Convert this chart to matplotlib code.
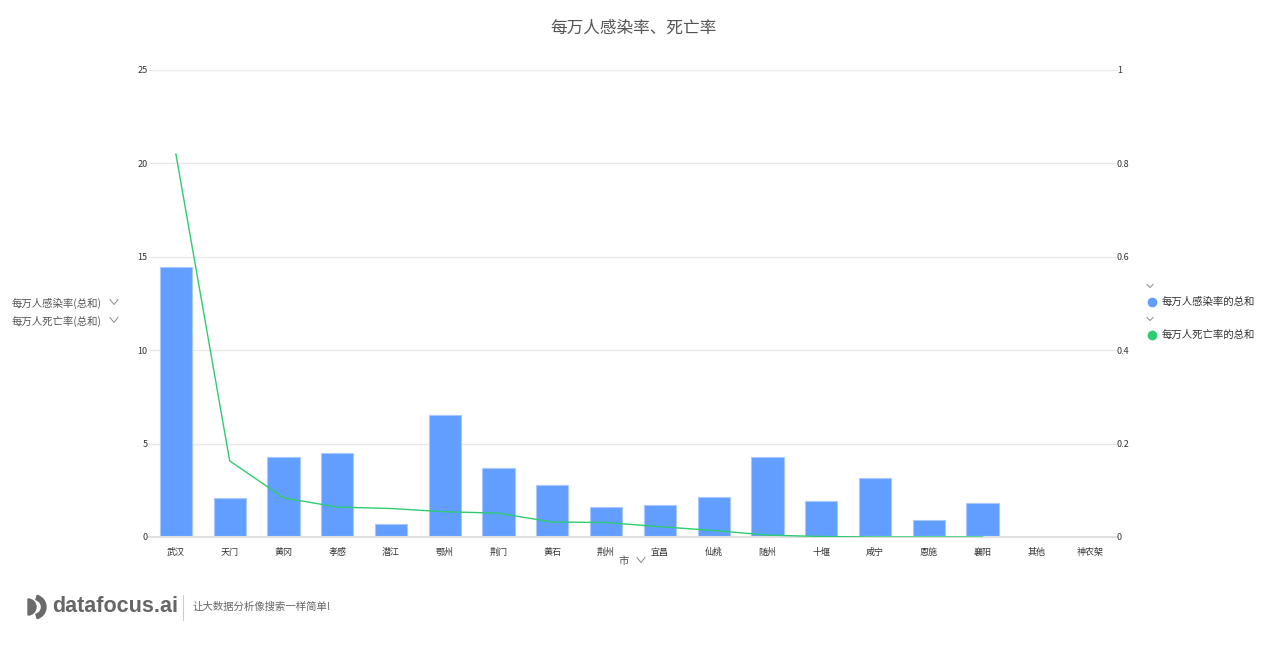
import numpy as np
import matplotlib
matplotlib.use('Agg')
import matplotlib.pyplot as plt
from matplotlib.lines import Line2D
from matplotlib.patches import Wedge

plt.rcParams['font.family'] = ['Noto Sans CJK SC', 'DejaVu Sans']

cities = ['武汉', '天门', '黄冈', '孝感', '潜江', '鄂州', '荆门', '黄石', '荆州',
          '宜昌', '仙桃', '随州', '十堰', '咸宁', '恩施', '襄阳', '其他', '神农架']
infection = [14.45, 2.09, 4.28, 4.5, 0.7, 6.53, 3.69, 2.78, 1.61,
             1.71, 2.14, 4.28, 1.93, 3.16, 0.91, 1.82, 0, 0]
death = [0.82, 0.163, 0.084, 0.064, 0.061, 0.054, 0.051, 0.032, 0.031,
         0.022, 0.014, 0.004, 0.001, 0.0, 0.0, 0.0, np.nan, np.nan]

left_ticks = [0, 5, 10, 15, 20, 25]
right_ticks = [0, 0.2, 0.4, 0.6, 0.8, 1]
right_labels = ['0', '0.2', '0.4', '0.6', '0.8', '1']

bar_color = '#629eff'
line_color = '#2ecc71'
grid_color = '#e8e8e8'
text_color = '#555555'

fig = plt.figure(figsize=(12.66, 6.64), dpi=100)
ax = fig.add_axes([0.1177, 0.1913, 0.7646, 0.7033])
x = np.arange(len(cities))

ax.bar(x, infection, width=0.6, color=bar_color, edgecolor='#a9c8ff', linewidth=0.8, zorder=2)
ax.set_xlim(-0.5, len(cities) - 0.5)
ax.set_ylim(0, 25)
ax.set_yticks(left_ticks)
ax.set_yticklabels([str(t) for t in left_ticks])
ax.grid(axis='y', color=grid_color, linewidth=1, zorder=0)
ax.set_xticks(x)
ax.set_xticklabels(cities)
ax.tick_params(axis='x', length=0, labelsize=6.5, colors='#333333', pad=8)
ax.tick_params(axis='y', length=0, labelsize=6.5, colors='#333333', pad=1)
for s in ['top', 'left', 'right']:
    ax.spines[s].set_visible(False)
ax.spines['bottom'].set_color('#e0e0e0')
ax.spines['bottom'].set_linewidth(1.5)

ax2 = ax.twinx()
ax2.plot(x, death, color=line_color, linewidth=1, zorder=3)
ax2.set_ylim(0, 1)
ax2.set_yticks(right_ticks)
ax2.set_yticklabels(right_labels)
ax2.tick_params(axis='y', length=0, labelsize=6.5, colors='#333333', pad=0)
for s in ax2.spines.values():
    s.set_visible(False)

fig.text(0.5, 0.958, '每万人感染率、死亡率', ha='center', va='center',
         fontsize=12, color=text_color)


def chevron(xp, yp, w=4, h=2.5, color='#888888'):
    # small "v" marker drawn in pixel coordinates
    W, H = 1266, 664
    xs = [(xp - w) / W, xp / W, (xp + w) / W]
    ys = [1 - (yp - h) / H, 1 - (yp + h) / H, 1 - (yp - h) / H]
    fig.add_artist(Line2D(xs, ys, color=color, linewidth=0.7, transform=fig.transFigure))


# left axis labels
fig.text(12 / 1266, 1 - 303 / 664, '每万人感染率(总和)', ha='left', va='center',
         fontsize=7.5, color=text_color)
chevron(114, 302)
fig.text(12 / 1266, 1 - 321 / 664, '每万人死亡率(总和)', ha='left', va='center',
         fontsize=7.5, color=text_color)
chevron(114, 320)

# x axis label
fig.text(624 / 1266, 1 - 561 / 664, '市', ha='center', va='center',
         fontsize=7.5, color=text_color)
chevron(641, 560)

# legend
chevron(1150, 286, w=3, h=1.5)
fig.add_artist(Line2D([1152 / 1266], [1 - 302 / 664], marker='o', markersize=6,
                      color=bar_color, linestyle='none', transform=fig.transFigure))
fig.text(1162 / 1266, 1 - 302 / 664, '每万人感染率的总和', ha='left', va='center',
         fontsize=7.5, color='#333333')
chevron(1150, 319, w=3, h=1.5)
fig.add_artist(Line2D([1152 / 1266], [1 - 335 / 664], marker='o', markersize=6,
                      color=line_color, linestyle='none', transform=fig.transFigure))
fig.text(1162 / 1266, 1 - 335 / 664, '每万人死亡率的总和', ha='left', va='center',
         fontsize=7.5, color='#333333')

# footer logo: pixel-unit axes over x 24..50, y 594..620
logo = fig.add_axes([24 / 1266, 1 - 620 / 664, 26 / 1266, 26 / 664])
logo.set_xlim(0, 26)
logo.set_ylim(0, 26)
logo.axis('off')
logo.add_patch(Wedge((4, 13), 8, -90, 90, color='#6a6a6a'))
logo.add_patch(Wedge((10, 13), 12, -75, 75, width=4.5, color='#6a6a6a'))
fig.text(52 / 1266, 1 - 607 / 664, 'datafocus.ai', ha='left', va='center',
         fontsize=15.5, fontweight='bold', color='#666666', family='Liberation Sans')
fig.add_artist(Line2D([183 / 1266, 183 / 1266], [1 - 595 / 664, 1 - 620 / 664],
                      color='#cccccc', linewidth=0.8, transform=fig.transFigure))
fig.text(193 / 1266, 1 - 607 / 664, '让大数据分析像搜索一样简单!', ha='left', va='center',
         fontsize=7.5, color='#666666')

fig.savefig('out.png', dpi=100)
